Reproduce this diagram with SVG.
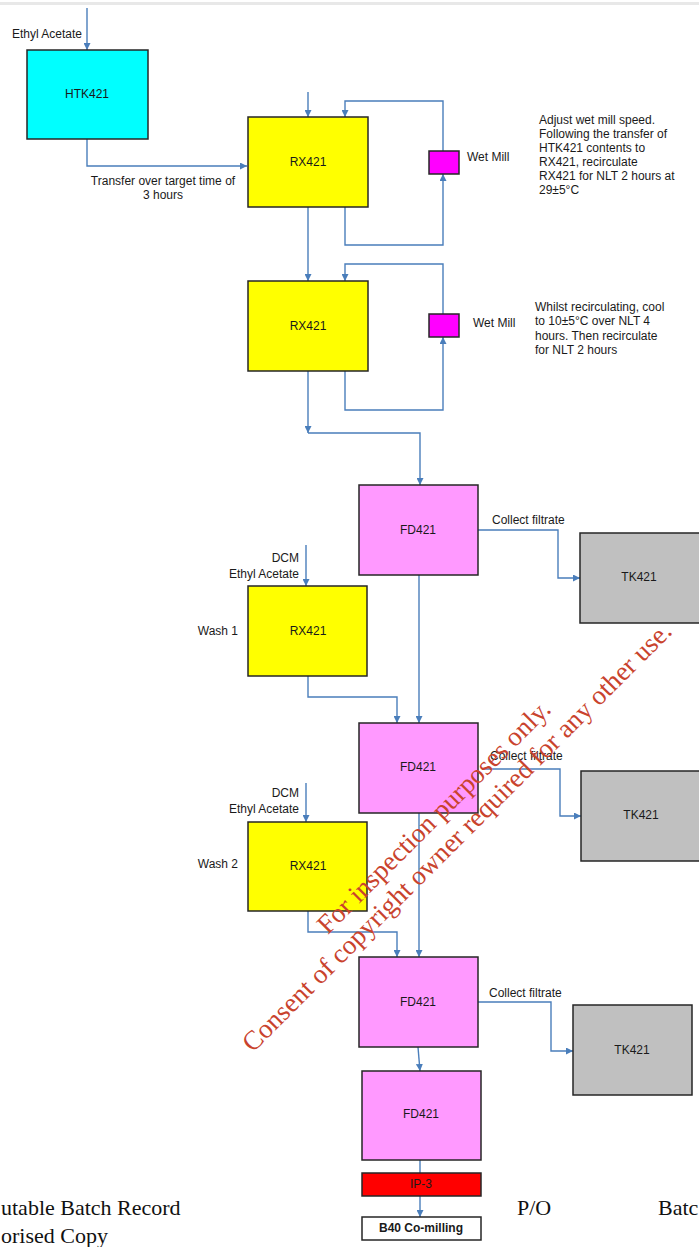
<svg xmlns="http://www.w3.org/2000/svg" width="699" height="1247" viewBox="0 0 699 1247">
<style>
.box{stroke:#262626;stroke-width:1.5}
.lbl{font-family:"Liberation Sans",Arial,sans-serif;font-size:12px;fill:#1a1a1a;text-anchor:middle}
.txt{font-family:"Liberation Sans",Arial,sans-serif;font-size:12px;fill:#1a1a1a}
.con{fill:none;stroke:#4a7ebb;stroke-width:1.4}
.foot{font-family:"Liberation Serif","Times New Roman",serif;font-size:22px;fill:#111}
.wm{font-family:"Liberation Serif","Times New Roman",serif;font-size:27px;fill:#c9432d;text-anchor:middle}
</style>
<defs>
<marker id="ah" viewBox="0 0 10 10" refX="10" refY="5" markerWidth="7" markerHeight="7" markerUnits="userSpaceOnUse" orient="auto">
<path d="M0,0 L10,5 L0,10 z" fill="#4a7ebb"/>
</marker>
</defs>
<rect x="0" y="0" width="699" height="1247" fill="#ffffff"/>
<rect x="0" y="2" width="699" height="3" fill="#e8e8e8"/>

<g id="footer">
<text class="foot" x="1" y="1215">utable Batch Record</text>
<text class="foot" x="1" y="1243">orised Copy</text>
<text class="foot" x="517" y="1215">P/O</text>
<text class="foot" x="658" y="1215">Batc</text>
</g>

<g id="connectors">
<path class="con" d="M87,8 V50" marker-end="url(#ah)"/>
<path class="con" d="M87,139 V166 H247" marker-end="url(#ah)"/>
<path class="con" d="M308,92 V117" marker-end="url(#ah)"/>
<path class="con" d="M345,207 V245 H443 V174" marker-end="url(#ah)"/>
<path class="con" d="M443,151 V101 H345 V117" marker-end="url(#ah)"/>
<path class="con" d="M308,207 V281" marker-end="url(#ah)"/>
<path class="con" d="M345,371 V410 H443 V337" marker-end="url(#ah)"/>
<path class="con" d="M443,314 V264 H345 V281" marker-end="url(#ah)"/>
<path class="con" d="M308,371 V433" marker-end="url(#ah)"/>
<path class="con" d="M308,433 H420 V485" marker-end="url(#ah)"/>
<path class="con" d="M478,530 H558 V578 H580" marker-end="url(#ah)"/>
<path class="con" d="M306,545 V586" marker-end="url(#ah)"/>
<path class="con" d="M308,676 V697 H397 V723" marker-end="url(#ah)"/>
<path class="con" d="M419,575 V723" marker-end="url(#ah)"/>
<path class="con" d="M482,769 H560 V816 H581" marker-end="url(#ah)"/>
<path class="con" d="M306,783 V822" marker-end="url(#ah)"/>
<path class="con" d="M308,911 V932 H397 V957" marker-end="url(#ah)"/>
<path class="con" d="M419,813 V957" marker-end="url(#ah)"/>
<path class="con" d="M478,1002 H551 V1051 H573" marker-end="url(#ah)"/>
<path class="con" d="M418,1047 L420,1071" marker-end="url(#ah)"/>
<path class="con" d="M420,1160 V1173"/>
<path class="con" d="M420,1196 V1217" marker-end="url(#ah)"/>
</g>

<g id="htk421">
<rect class="box" x="27" y="50" width="121" height="89" fill="#00ffff"/>
<text class="lbl" x="87" y="98">HTK421</text>
</g>
<g id="ethyl-acetate-1"><text class="txt" x="82" y="38" text-anchor="end">Ethyl Acetate</text></g>
<g id="transfer-label">
<text class="lbl" x="163" y="185">Transfer over target time of</text>
<text class="lbl" x="163" y="199">3 hours</text>
</g>

<g id="rx421-1">
<rect class="box" x="248" y="117" width="120" height="90" fill="#ffff00"/>
<text class="lbl" x="308" y="166">RX421</text>
</g>
<g id="wetmill-1">
<rect class="box" x="429" y="151" width="30" height="23" fill="#ff00ff"/>
<text class="txt" x="467" y="161">Wet Mill</text>
</g>
<g id="note-1">
<text class="txt" x="539" y="124">Adjust wet mill speed.</text>
<text class="txt" x="539" y="138">Following the transfer of</text>
<text class="txt" x="539" y="152">HTK421 contents to</text>
<text class="txt" x="539" y="166">RX421, recirculate</text>
<text class="txt" x="539" y="180">RX421 for NLT 2 hours at</text>
<text class="txt" x="539" y="194">29±5°C</text>
</g>

<g id="rx421-2">
<rect class="box" x="248" y="281" width="120" height="90" fill="#ffff00"/>
<text class="lbl" x="308" y="330">RX421</text>
</g>
<g id="wetmill-2">
<rect class="box" x="429" y="314" width="30" height="23" fill="#ff00ff"/>
<text class="txt" x="473" y="327">Wet Mill</text>
</g>
<g id="note-2">
<text class="txt" x="535" y="311">Whilst recirculating, cool</text>
<text class="txt" x="535" y="325">to 10±5°C over NLT 4</text>
<text class="txt" x="535" y="340">hours. Then recirculate</text>
<text class="txt" x="535" y="354">for NLT 2 hours</text>
</g>

<g id="fd421-1">
<rect class="box" x="359" y="485" width="119" height="90" fill="#ff99ff"/>
<text class="lbl" x="418" y="534">FD421</text>
</g>
<g id="collect-1"><text class="txt" x="492" y="524">Collect filtrate</text></g>
<g id="tk421-1">
<rect class="box" x="580" y="533" width="121" height="90" fill="#c0c0c0"/>
<text class="lbl" x="639" y="581">TK421</text>
</g>

<g id="wash1-inputs">
<text class="txt" x="299" y="562" text-anchor="end">DCM</text>
<text class="txt" x="299" y="578" text-anchor="end">Ethyl Acetate</text>
</g>
<g id="rx421-wash1">
<rect class="box" x="248" y="586" width="119" height="90" fill="#ffff00"/>
<text class="lbl" x="308" y="635">RX421</text>
<text class="txt" x="238" y="635" text-anchor="end">Wash 1</text>
</g>

<g id="fd421-2">
<rect class="box" x="359" y="723" width="119" height="90" fill="#ff99ff"/>
<text class="lbl" x="418" y="771">FD421</text>
</g>
<g id="collect-2"><text class="txt" x="490" y="760">Collect filtrate</text></g>
<g id="tk421-2">
<rect class="box" x="581" y="771" width="120" height="90" fill="#c0c0c0"/>
<text class="lbl" x="641" y="819">TK421</text>
</g>

<g id="wash2-inputs">
<text class="txt" x="299" y="797" text-anchor="end">DCM</text>
<text class="txt" x="299" y="813" text-anchor="end">Ethyl Acetate</text>
</g>
<g id="rx421-wash2">
<rect class="box" x="248" y="822" width="119" height="89" fill="#ffff00"/>
<text class="lbl" x="308" y="870">RX421</text>
<text class="txt" x="238" y="868" text-anchor="end">Wash 2</text>
</g>

<g id="fd421-3">
<rect class="box" x="359" y="957" width="119" height="90" fill="#ff99ff"/>
<text class="lbl" x="418" y="1006">FD421</text>
</g>
<g id="collect-3"><text class="txt" x="489" y="997">Collect filtrate</text></g>
<g id="tk421-3">
<rect class="box" x="573" y="1005" width="119" height="90" fill="#c0c0c0"/>
<text class="lbl" x="632" y="1054">TK421</text>
</g>

<g id="fd421-4">
<rect class="box" x="362" y="1071" width="119" height="89" fill="#ff99ff"/>
<text class="lbl" x="421" y="1118">FD421</text>
</g>
<g id="ip-3">
<rect class="box" x="362" y="1173" width="119" height="23" fill="#ff0000"/>
<text class="lbl" x="421" y="1188">IP-3</text>
</g>
<g id="b40">
<rect class="box" x="362" y="1217" width="119" height="23" fill="#ffffff"/>
<text class="lbl" x="421" y="1232" font-weight="bold">B40 Co-milling</text>
</g>

<g id="watermark">
<text class="wm" x="440" y="823" transform="rotate(-45 440 823)">For inspection purposes only.</text>
<text class="wm" x="463" y="843" transform="rotate(-45 463 843)">Consent of copyright owner required for any other use.</text>
</g>
</svg>
